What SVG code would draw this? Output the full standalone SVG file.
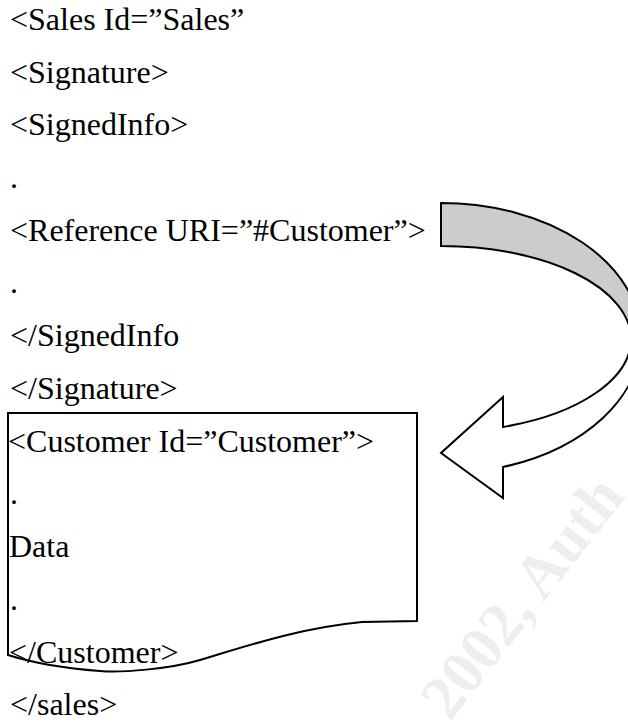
<svg xmlns="http://www.w3.org/2000/svg" width="628" height="722" viewBox="0 0 628 722">
<style>
.t{font-family:"Liberation Serif","Times New Roman",serif;font-size:32px;fill:#000}
.wm{font-family:"Liberation Serif","Times New Roman",serif;font-size:62px;font-weight:bold;fill:#eeeeee}
.ln{stroke:#000;stroke-width:2;stroke-linejoin:miter}
</style>
<rect width="628" height="722" fill="#fff"/>
<text class="wm" transform="translate(450,722) rotate(-52)">2002, Auth</text>
<g id="customer-box">
<path class="ln" fill="none" d="M8,413 H417 V621 L362,622 C300,628 250,645 200,660 C170,669 120,673 100,671 C60,668 30,662 8,655 Z"/>
</g>
<g id="connectors">
<path id="arrow-back" class="ln" fill="#cccccc" d="M441,203 A200,135 0 0 1 641,338 L631,339 A190,93 0 0 0 441,246 Z"/>
<path id="arrow-front" class="ln" fill="#fff" d="M631,339 A190,93 0 0 1 503,427 L503,397 L441,453 L503,498 L503,467 A200,135 0 0 0 641,338 Z"/>
</g>
<g id="code">
<text class="t" x="10" y="30">&lt;Sales Id=”Sales”</text>
<text class="t" x="10" y="83">&lt;Signature&gt;</text>
<text class="t" x="10" y="135">&lt;SignedInfo&gt;</text>
<text class="t" x="10" y="188">.</text>
<text class="t" x="10" y="241">&lt;Reference URI=”#Customer”&gt;</text>
<text class="t" x="10" y="293">.</text>
<text class="t" x="10" y="346">&lt;/SignedInfo</text>
<text class="t" x="10" y="399">&lt;/Signature&gt;</text>
<text class="t" x="8" y="452">&lt;Customer Id=”Customer”&gt;</text>
<text class="t" x="10" y="504">.</text>
<text class="t" x="9" y="557">Data</text>
<text class="t" x="10" y="610">.</text>
<text class="t" x="9" y="663">&lt;/Customer&gt;</text>
<text class="t" x="10" y="715">&lt;/sales&gt;</text>
</g>
</svg>
